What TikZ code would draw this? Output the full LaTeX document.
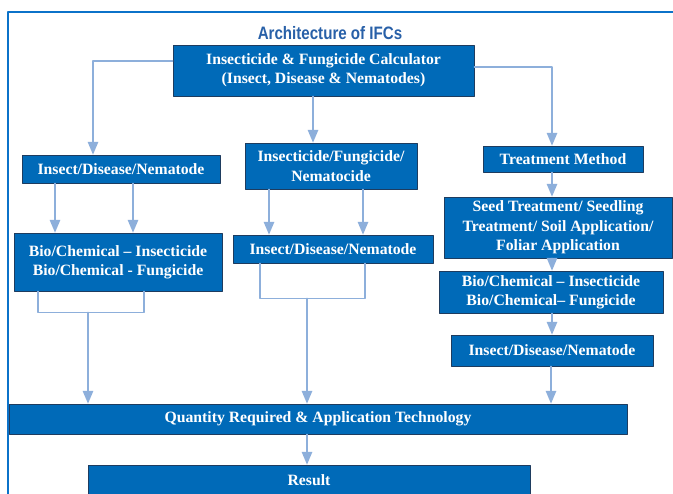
\documentclass[tikz,border=0pt]{standalone}
\usepackage{fontspec}
\setmainfont{Liberation Serif}
\newfontfamily\titlefont[FakeStretch=0.84]{Liberation Sans}
\usepackage{tikz}
\usetikzlibrary{arrows}
\definecolor{boxblue}{RGB}{0,106,184}
\definecolor{boxedge}{RGB}{30,60,95}
\definecolor{connblue}{RGB}{141,175,219}
\definecolor{frameblue}{RGB}{11,114,201}
\definecolor{titleblue}{RGB}{40,96,168}

\begin{document}
\begin{tikzpicture}[line cap=round,line join=round,>=triangle 45,x=0.75pt,y=-0.75pt,
  box/.style={fill=boxblue,draw=boxedge,line width=0.6pt,text=white,align=center,inner sep=0pt,
    font=\fontsize{11.8}{14.5}\selectfont\bfseries},
  conn/.style={draw=connblue,line width=1.2pt},
  arr/.style={conn,->}]
\useasboundingbox (0,0) rectangle (673,493);
\clip(0,0) rectangle (673,493);
\fill[white] (0,0) rectangle (673,493);
\draw [draw=frameblue,line width=1.8pt] (8,500) -- (8,12) -- (680,12);
\node[text=titleblue,font=\titlefont\fontsize{13.5}{16}\selectfont\bfseries] (title) at (330,33) {Architecture of IFCs};
% boxes
\node[box,minimum width=225.75pt,minimum height=38.25pt] (calc) at (323.5,70.5) {Insecticide \& Fungicide Calculator\\(Insect, Disease \& Nematodes)};
\node[box,minimum width=148.5pt,minimum height=21pt] (pestL) at (121,169) {Insect/Disease/Nematode};
\node[box,minimum width=156pt,minimum height=43.5pt] (chemL) at (118,262) {Bio/Chemical – Insecticide\\Bio/Chemical - Fungicide};
\node[box,minimum width=129pt,minimum height=34.5pt] (agentM) at (331,166) {Insecticide/Fungicide/\\Nematocide};
\node[box,minimum width=150pt,minimum height=21pt] (pestM) at (333,249) {Insect/Disease/Nematode};
\node[box,minimum width=120pt,minimum height=19.5pt] (method) at (563,159) {Treatment Method};
\node[box,minimum width=171pt,minimum height=45.75pt] (appl) at (558,227.5) {Seed Treatment/ Seedling\\Treatment/ Soil Application/\\Foliar Application};
\node[box,minimum width=168pt,minimum height=31.5pt] (chemR) at (551,292) {Bio/Chemical – Insecticide\\Bio/Chemical– Fungicide};
\node[box,minimum width=151.5pt,minimum height=23.25pt] (pestR) at (552,350.5) {Insect/Disease/Nematode};
\node[box,minimum width=463.5pt,minimum height=22.5pt] (qty) at (318,419) {Quantity Required \& Application Technology};
\node[box,minimum width=331.5pt,minimum height=22.5pt] (result) at (309,480) {Result};
% connectors
\draw [arr] ([shift={(0,-9.5)}]calc.west) -| ([shift={(-28,0)}]pestL.north);
\draw [arr] ([shift={(-10.5,0)}]calc.south) -- ([shift={(-18,0)}]agentM.north);
\draw [arr] ([shift={(0,-3.5)}]calc.east) -| ([shift={(-11,0)}]method.north);
\foreach \dx in {-66,12}
  \draw [arr] ([shift={(\dx,0)}]pestL.south) -- ([shift={(\dx,0)}]pestL.south |- chemL.north);
\foreach \dx in {-62,32}
  \draw [arr] ([shift={(\dx,0)}]agentM.south) -- ([shift={(\dx,0)}]agentM.south |- pestM.north);
\draw [conn] ([shift={(-80,0)}]chemL.south) -- ++(0,21) -| ([shift={(26,0)}]chemL.south);
\draw [arr] ([shift={(-30,21)}]chemL.south) -- ([shift={(-30,0)}]chemL.south |- qty.north);
\draw [conn] ([shift={(-73,0)}]pestM.south) -- ++(0,35) -| ([shift={(32,0)}]pestM.south);
\draw [arr] ([shift={(-26,35)}]pestM.south) -- ([shift={(-26,0)}]pestM.south |- qty.north);
\draw [arr] ([shift={(-11,0)}]method.south) -- ([shift={(-11,0)}]method.south |- appl.north);
\draw [arr] ([shift={(-6,0)}]appl.south) -- ([shift={(-6,0)}]appl.south |- chemR.north);
\draw [arr] ([shift={(1,0)}]chemR.south) -- ([shift={(1,0)}]chemR.south |- pestR.north);
\draw [arr] ([shift={(-1,0)}]pestR.south) -- ([shift={(-1,0)}]pestR.south |- qty.north);
\draw [arr] ([shift={(-11,0)}]qty.south) -- ([shift={(-11,0)}]qty.south |- result.north);
\end{tikzpicture}
\end{document}
